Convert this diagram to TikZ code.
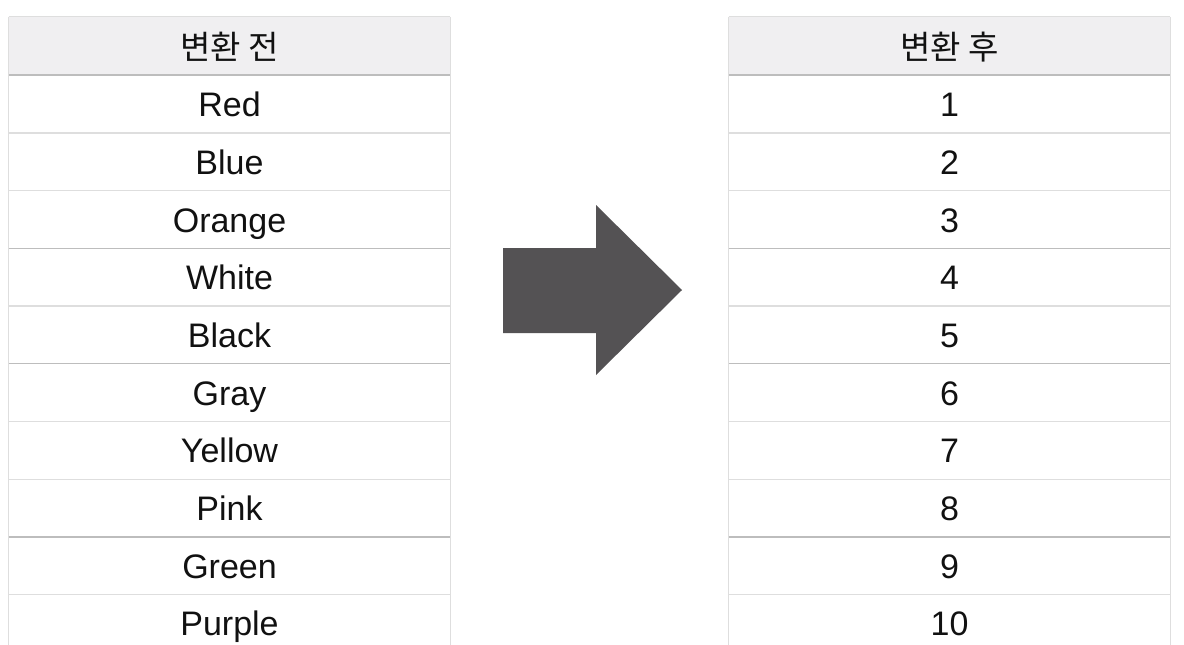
\documentclass[tikz,border=0pt]{standalone}
\usepackage{fontspec}
\setmainfont{Liberation Sans}
\newfontfamily\kr{Noto Sans CJK KR}
\definecolor{hdrfill}{HTML}{F0EFF1}
\definecolor{gridlight}{HTML}{DEDEDE}
\definecolor{griddark}{HTML}{BDBDBD}
\definecolor{arrowgray}{HTML}{545254}
\definecolor{txt}{HTML}{111111}
\begin{document}
\begin{tikzpicture}[x=1pt,y=-1pt,
  cell/.style={inner sep=0pt,minimum width=441pt,minimum height=57.7pt,anchor=center,
    text height=25.6pt,text depth=0pt,
    font=\fontsize{34}{36}\selectfont,text=txt},
  hdr/.style={cell,fill=hdrfill,minimum height=58pt,text height=26pt,
    font=\kr\fontsize{33}{36}\selectfont},
  lite/.style={draw=gridlight,line width=1.2pt},
  dark/.style={draw=griddark,line width=1.5pt}]
\useasboundingbox (0,0) rectangle (1184,645);
\fill[white] (0,0) rectangle (1184,645);
% headers
\node[hdr] (lh) at (229.5,46) {변환 전};
\node[hdr] (rh) at (949.5,46) {변환 후};
% rows
\foreach \t [count=\i] in {Red,Blue,Orange,White,Black,Gray,Yellow,Pink,Green,Purple}{
  \node[cell] (l\i) at (229.5,{75+57.7*(\i-0.5)}) {\t};
}
\foreach \i in {1,...,10}{
  \node[cell] (r\i) at (949.5,{75+57.7*(\i-0.5)}) {\i};
}
% grid lines
\foreach \a/\b in {lh/l,rh/r}{
  \draw[lite] (\a.north west) -- (\a.north east);
  \draw[lite] (\a.north west) -- (\b10.south west);
  \draw[lite] (\a.north east) -- (\b10.south east);
  \draw[dark] (\a.south west) -- (\a.south east);
  \foreach \k in {1,2,4,6,7,9}{
    \draw[lite] (\b\k.south west) -- (\b\k.south east);
  }
  \foreach \k in {3,5,8}{
    \draw[dark] (\b\k.south west) -- (\b\k.south east);
  }
}
% arrow
\fill[arrowgray] (503,248) -- (596,248) -- (596,205) -- (682,290) -- (596,375) -- (596,333) -- (503,333) -- cycle;
\end{tikzpicture}
\end{document}
